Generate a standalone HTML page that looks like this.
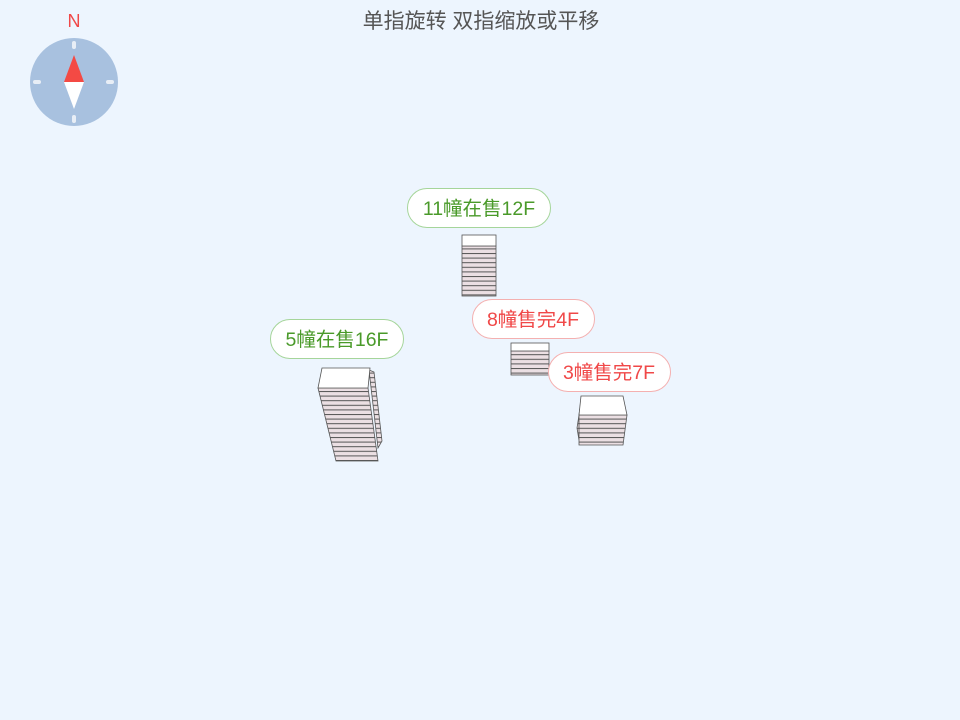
<!DOCTYPE html>
<html><head><meta charset="utf-8"><style>
html,body{margin:0;padding:0;width:960px;height:720px;background:#edf5fe;overflow:hidden;font-family:"Liberation Sans","Noto Sans CJK SC",sans-serif}
</style></head><body>
<svg width="960" height="720" viewBox="0 0 960 720" xmlns="http://www.w3.org/2000/svg" style="position:absolute;left:0;top:0">
<defs>
<pattern id="fl" width="10" height="4.6" patternUnits="userSpaceOnUse"><rect width="10" height="4.6" fill="#ebdfe3"/><line x1="0" y1="0.5" x2="10" y2="0.5" stroke="#555" stroke-width="1"/></pattern>
</defs>
<text x="481" y="28" text-anchor="middle" font-size="21" fill="#555" font-family="Liberation Sans,Noto Sans CJK SC,sans-serif">单指旋转 双指缩放或平移</text>
<text x="74" y="27" text-anchor="middle" font-size="18" fill="#f04848" font-family="Liberation Sans,sans-serif">N</text>
<circle cx="74" cy="82" r="44" fill="#a8c1df"/>
<rect x="72" y="41" width="4" height="8" rx="2" fill="#e8eef6"/>
<rect x="72" y="115" width="4" height="8" rx="2" fill="#e8eef6"/>
<rect x="33" y="80" width="8" height="4" rx="2" fill="#e8eef6"/>
<rect x="106" y="80" width="8" height="4" rx="2" fill="#e8eef6"/>
<polygon points="74,55 84,82 64,82" fill="#f44a44"/>
<polygon points="64,82 84,82 74,109" fill="#fff"/>
<rect x="462" y="246" width="34" height="50" fill="url(#fl)" stroke="#555" stroke-width="0.8"/>
<rect x="462" y="235" width="34" height="11" fill="#fff" stroke="#555" stroke-width="0.8"/>
<rect x="511" y="351" width="38" height="24" fill="url(#fl)" stroke="#555" stroke-width="0.8"/>
<rect x="511" y="343" width="38" height="8" fill="#fff" stroke="#555" stroke-width="0.8"/>
<polygon points="369,370 374,372 382,441 378,448" fill="url(#fl)" stroke="#555" stroke-width="0.8"/>
<polygon points="318,388 368,388 378,461 336,461" fill="url(#fl)" stroke="#555" stroke-width="0.8"/>
<polygon points="322,368 370,368 368,388 318,388" fill="#fff" stroke="#555" stroke-width="0.8"/>
<polygon points="581,400 579,415 577,428 579,440" fill="url(#fl)" stroke="#555" stroke-width="0.8"/>
<polygon points="579,415 627,415 623,445 579,445" fill="url(#fl)" stroke="#555" stroke-width="0.8"/>
<polygon points="581,396 623,396 627,415 579,415" fill="#fff" stroke="#555" stroke-width="0.8"/>
<g font-size="19.5" font-family="Liberation Sans,Noto Sans CJK SC,sans-serif" text-anchor="middle">
<rect x="407.5" y="188.5" width="143" height="39" rx="19.5" fill="#fff" stroke="#a5d59a"/>
<text x="479" y="215" fill="#4a9a2a">11幢在售12F</text>
<rect x="472.5" y="299.5" width="122" height="39" rx="19.5" fill="#fff" stroke="#f4b0b0"/>
<text x="533" y="326" fill="#f04848">8幢售完4F</text>
<rect x="270.5" y="319.5" width="133" height="39" rx="19.5" fill="#fff" stroke="#a5d59a"/>
<text x="337" y="346" fill="#4a9a2a">5幢在售16F</text>
<rect x="548.5" y="352.5" width="122" height="39" rx="19.5" fill="#fff" stroke="#f4b0b0"/>
<text x="609" y="379" fill="#f04848">3幢售完7F</text>
</g>
</svg>
</body></html>
